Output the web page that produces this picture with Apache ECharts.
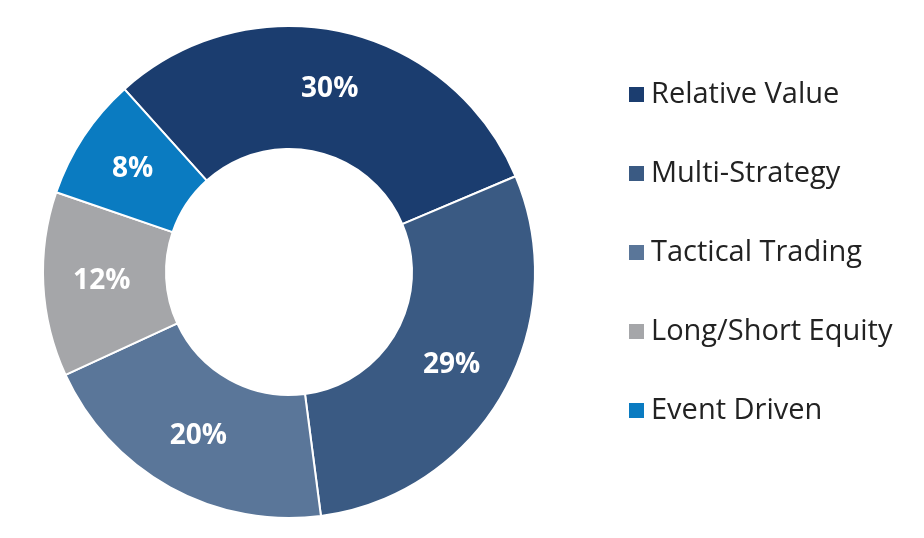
<!DOCTYPE html>
<html>
<head>
<meta charset="utf-8">
<script src="https://cdn.jsdelivr.net/npm/echarts@6/dist/echarts.min.js"></script>
<style>html,body{margin:0;padding:0;background:#fff}#chart{width:924px;height:538px}</style>
</head>
<body>
<div id="chart"></div>
<script>
var categories = ['Relative Value', 'Multi-Strategy', 'Tactical Trading', 'Long/Short Equity', 'Event Driven'];
var values = [30, 29, 20, 12, 8];
var colors = ['#1b3d6f', '#3a5a83', '#5a7699', '#a5a6a9', '#0a7bc1'];

var myChart = echarts.init(document.getElementById('chart'));
var data = [];
for (var i = 0; i < categories.length; i++) {
    data.push({ name: categories[i], value: values[i], itemStyle: { color: colors[i] } });
}
var option = {
    animation: false,
    legend: {
        orient: 'vertical',
        left: 622,
        top: 75,
        itemWidth: 17,
        itemHeight: 17,
        itemGap: 50,
        icon: 'rect',
        textStyle: { fontSize: 29, color: '#222', fontFamily: 'Open Sans', padding: [0, 0, 0, 1] },
        data: categories
    },
    series: [{
        type: 'pie',
        center: [289, 272],
        radius: [123, 246],
        startAngle: 132,
        clockwise: true,
        itemStyle: { borderColor: '#fff', borderWidth: 2 },
        label: {
            position: 'inside',
            formatter: '{c}%',
            color: '#fff',
            fontSize: 28,
            fontWeight: 'bold',
            fontFamily: 'Open Sans'
        },
        labelLine: { show: false },
        data: data
    }]
};
myChart.setOption(option);
</script>
</body>
</html>
